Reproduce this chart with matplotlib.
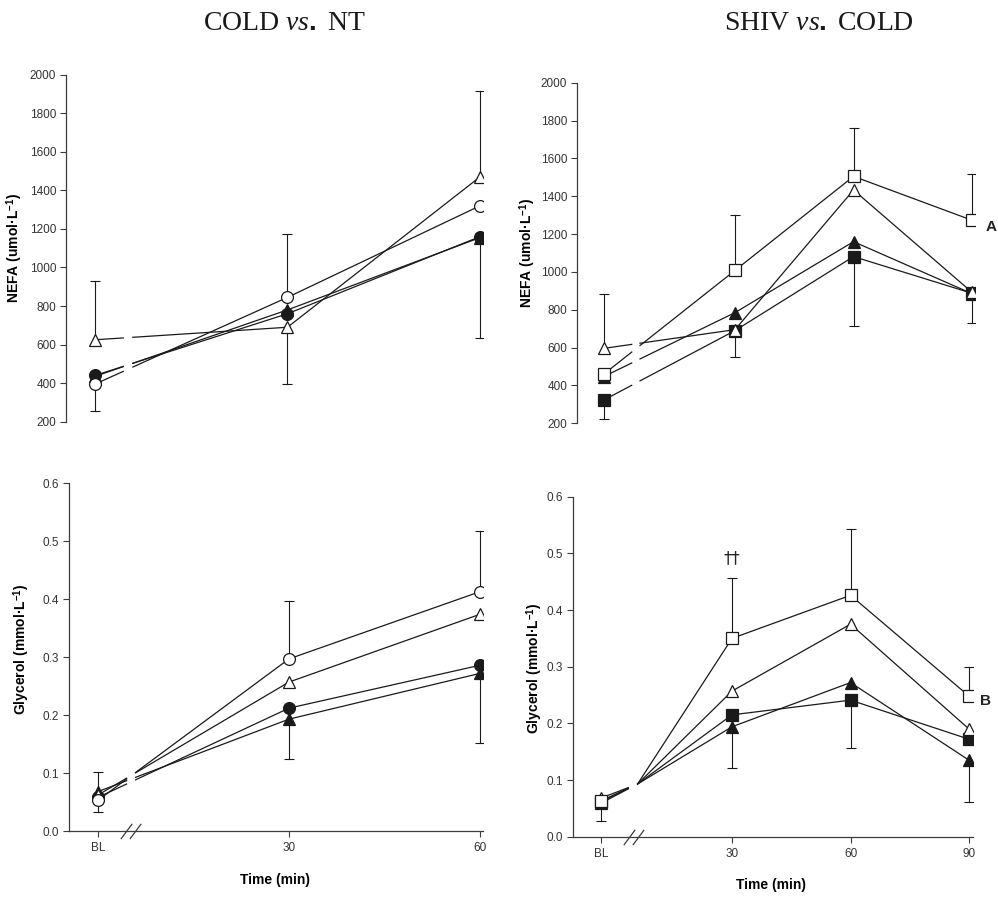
import matplotlib
matplotlib.use('Agg')
import matplotlib.pyplot as plt
import matplotlib.transforms as mtransforms
from matplotlib.path import Path

plt.rcParams['font.family'] = ['Liberation Sans', 'DejaVu Sans']
plt.rcParams['mathtext.fontset'] = 'custom'
plt.rcParams['mathtext.rm'] = 'Liberation Sans:bold'
plt.rcParams['mathtext.bf'] = 'Liberation Sans:bold'
plt.rcParams['mathtext.it'] = 'Liberation Serif:italic'

AXIS_COLOR = '#3c3c3c'
LINE_COLOR = '#1a1a1a'

# ---- values ----
times_cold = ['BL', '30', '60']
times_shiv = ['BL', '30', '60', '90']

# NEFA (umol/L), COLD vs. NT
nefa_cold_tri_open = [625, 690, 1470]
nefa_cold_tri_open_up = [305, 0, 447]
nefa_cold_tri_open_down = [0, 296, 0]
nefa_cold_tri_filled = [435, 780, 1155]
nefa_cold_circ_filled = [440, 760, 1160]
nefa_cold_circ_filled_down = [0, 0, 524]
nefa_cold_circ_open = [395, 845, 1320]
nefa_cold_circ_open_up = [0, 327, 0]
nefa_cold_circ_open_down = [140, 0, 0]

# NEFA (umol/L), SHIV vs. COLD
nefa_shiv_sq_filled = [323, 690, 1081, 887]
nefa_shiv_sq_filled_down = [102, 138, 365, 159]
nefa_shiv_tri_filled = [447, 785, 1160, 885]
nefa_shiv_sq_open = [460, 1008, 1505, 1273]
nefa_shiv_sq_open_up = [0, 293, 254, 244]
nefa_shiv_tri_open = [596, 695, 1433, 892]
nefa_shiv_tri_open_up = [287, 0, 0, 0]

# Glycerol (mmol/L), COLD vs. NT
gly_cold_tri_filled = [0.068, 0.193, 0.272]
gly_cold_tri_filled_up = [0.033, 0, 0]
gly_cold_tri_filled_down = [0, 0.068, 0.121]
gly_cold_circ_filled = [0.058, 0.212, 0.286]
gly_cold_tri_open = [0.062, 0.257, 0.374]
gly_cold_circ_open = [0.053, 0.297, 0.413]
gly_cold_circ_open_up = [0, 0.100, 0.105]
gly_cold_circ_open_down = [0.020, 0, 0]

# Glycerol (mmol/L), SHIV vs. COLD
gly_shiv_tri_filled = [0.059, 0.194, 0.272, 0.135]
gly_shiv_tri_filled_down = [0, 0.072, 0, 0.074]
gly_shiv_sq_filled = [0.062, 0.215, 0.241, 0.172]
gly_shiv_sq_filled_down = [0, 0, 0.085, 0]
gly_shiv_tri_open = [0.068, 0.257, 0.375, 0.190]
gly_shiv_sq_open = [0.063, 0.350, 0.426, 0.248]
gly_shiv_sq_open_up = [0, 0.106, 0.117, 0.052]
gly_shiv_sq_open_down = [0.035, 0, 0, 0]
gly_shiv_bridge = 0.093   # value where the lines resume after the axis break


def positions(times, bl_pos):
    return [bl_pos if t == 'BL' else float(t) for t in times]


def draw_series(ax, xs, ys, marker, filled, gap, bridge=None, up=None, down=None, ms=8.5):
    x0, y0 = xs[0], ys[0]
    g0, g1 = gap
    if bridge is None:
        yb = y0 + (ys[1] - y0) * (g1 - x0) / (xs[1] - x0)
    else:
        yb = bridge
    ya = y0 + (yb - y0) * (g0 - x0) / (g1 - x0)
    ax.plot([x0, g0], [y0, ya], color=LINE_COLOR, lw=0.9, zorder=2)
    ax.plot([g1] + list(xs[1:]), [yb] + list(ys[1:]), color=LINE_COLOR, lw=0.9, zorder=2)
    for i, (x, y) in enumerate(zip(xs, ys)):
        for err, sgn in ((up, 1), (down, -1)):
            if err and err[i]:
                yy = y + sgn * err[i]
                ax.plot([x, x], [y, yy], color=LINE_COLOR, lw=0.8, zorder=1)
                ax.plot([x], [yy], marker='_', ms=7.5, mew=0.8, color=LINE_COLOR, zorder=1)
    ax.plot(xs, ys, ls='none', marker=marker, ms=ms,
            mfc=LINE_COLOR if filled else 'white', mec=LINE_COLOR, mew=0.9, zorder=3)


def px_axes(fig, left, top, right, bottom):
    W, H = 998, 898
    return fig.add_axes([left / W, 1 - bottom / H, (right - left) / W, (bottom - top) / H])


def style_axes(ax, show_x):
    for s in ['top', 'right']:
        ax.spines[s].set_visible(False)
    ax.spines['left'].set_color(AXIS_COLOR)
    ax.spines['left'].set_linewidth(0.9)
    ax.tick_params(axis='y', direction='out', length=4, width=0.8, color=AXIS_COLOR,
                   labelsize=8.5, labelcolor='#333333', pad=3)
    if show_x:
        ax.spines['bottom'].set_color(AXIS_COLOR)
        ax.spines['bottom'].set_linewidth(0.9)
        ax.tick_params(axis='x', direction='out', length=4, width=0.8, color=AXIS_COLOR,
                       labelsize=8.5, labelcolor='#333333', pad=4)
    else:
        ax.spines['bottom'].set_visible(False)
        ax.set_xticks([])


slash = Path([(-0.37, -0.5), (0.37, 0.5)], [Path.MOVETO, Path.LINETO])


def axis_break(ax, xc, dx):
    trans = mtransforms.blended_transform_factory(ax.transData, ax.transAxes)
    ax.plot([xc - dx, xc + dx], [0, 0], ls='none', marker=slash, ms=11, mew=0.9,
            color=AXIS_COLOR, transform=trans, clip_on=False, zorder=5)


fig = plt.figure(figsize=(9.98, 8.98), dpi=100)

x_cold = positions(times_cold, 0.0)
x_shiv = positions(times_shiv, -3.2)

nefa_label = 'NEFA (umol·L$^{-1}$)'
gly_label = 'Glycerol (mmol·L$^{-1}$)'

# ---- top left: NEFA, COLD vs NT ----
ax1 = px_axes(fig, 66, 74.7, 483.2, 421.7)
gap = (4.4, 5.9)
draw_series(ax1, x_cold, nefa_cold_tri_open, '^', False, gap,
            up=nefa_cold_tri_open_up, down=nefa_cold_tri_open_down)
draw_series(ax1, x_cold, nefa_cold_tri_filled, '^', True, gap)
draw_series(ax1, x_cold, nefa_cold_circ_filled, 'o', True, gap, down=nefa_cold_circ_filled_down)
draw_series(ax1, x_cold, nefa_cold_circ_open, 'o', False, gap,
            up=nefa_cold_circ_open_up, down=nefa_cold_circ_open_down)
ax1.set_xlim(-4.52, 60.5)
ax1.set_ylim(200, 2000)
ax1.set_yticks(range(200, 2001, 200))
style_axes(ax1, False)
ax1.set_ylabel(nefa_label, fontsize=10, fontweight='bold')
ax1.yaxis.set_label_coords(-0.098, 0.5)

# ---- top right: NEFA, SHIV vs COLD ----
ax2 = px_axes(fig, 577, 82.7, 975.2, 423.3)
gap = (3.85, 5.95)
draw_series(ax2, x_shiv, nefa_shiv_sq_filled, 's', True, gap, down=nefa_shiv_sq_filled_down, ms=8)
draw_series(ax2, x_shiv, nefa_shiv_tri_filled, '^', True, gap)
draw_series(ax2, x_shiv, nefa_shiv_sq_open, 's', False, gap, up=nefa_shiv_sq_open_up, ms=8)
draw_series(ax2, x_shiv, nefa_shiv_tri_open, '^', False, gap, up=nefa_shiv_tri_open_up)
ax2.set_xlim(-10.0, 90.8)
ax2.set_ylim(200, 2000)
ax2.set_yticks(range(200, 2001, 200))
style_axes(ax2, False)
ax2.set_ylabel(nefa_label, fontsize=10, fontweight='bold')
ax2.yaxis.set_label_coords(-0.098, 0.5)
ax2.annotate('A', xy=(x_shiv[-1], nefa_shiv_sq_open[-1]), xytext=(9.5, -4.5),
             textcoords='offset points', ha='left', va='center',
             fontsize=11, fontweight='bold', color='#222222')

# ---- bottom left: Glycerol, COLD vs NT ----
ax3 = px_axes(fig, 69, 483.3, 483, 831)
gap = (4.5, 5.9)
draw_series(ax3, x_cold, gly_cold_tri_filled, '^', True, gap,
            up=gly_cold_tri_filled_up, down=gly_cold_tri_filled_down)
draw_series(ax3, x_cold, gly_cold_circ_filled, 'o', True, gap)
draw_series(ax3, x_cold, gly_cold_tri_open, '^', False, gap)
draw_series(ax3, x_cold, gly_cold_circ_open, 'o', False, gap,
            up=gly_cold_circ_open_up, down=gly_cold_circ_open_down)
ax3.set_xlim(-4.55, 60.47)
ax3.set_ylim(0, 0.6)
ax3.set_yticks([0, 0.1, 0.2, 0.3, 0.4, 0.5, 0.6])
ax3.set_yticklabels(['0.0', '0.1', '0.2', '0.3', '0.4', '0.5', '0.6'])
ax3.set_xticks(x_cold)
ax3.set_xticklabels(times_cold)
style_axes(ax3, True)
axis_break(ax3, 5.1, 0.7)
ax3.set_ylabel(gly_label, fontsize=10, fontweight='bold')
ax3.yaxis.set_label_coords(-0.089, 0.522)
ax3.set_xlabel('Time (min)', fontsize=10, fontweight='bold')
ax3.xaxis.set_label_coords(0.498, -0.121)

# ---- bottom right: Glycerol, SHIV vs COLD ----
ax4 = px_axes(fig, 573, 496.7, 973, 836.7)
gap = (3.75, 6.1)
draw_series(ax4, x_shiv, gly_shiv_tri_filled, '^', True, gap, bridge=gly_shiv_bridge,
            down=gly_shiv_tri_filled_down)
draw_series(ax4, x_shiv, gly_shiv_sq_filled, 's', True, gap, bridge=gly_shiv_bridge,
            down=gly_shiv_sq_filled_down, ms=8)
draw_series(ax4, x_shiv, gly_shiv_tri_open, '^', False, gap, bridge=gly_shiv_bridge)
draw_series(ax4, x_shiv, gly_shiv_sq_open, 's', False, gap, bridge=gly_shiv_bridge,
            up=gly_shiv_sq_open_up, down=gly_shiv_sq_open_down, ms=8)
ax4.set_xlim(-10.25, 91.0)
ax4.set_ylim(0, 0.6)
ax4.set_yticks([0, 0.1, 0.2, 0.3, 0.4, 0.5, 0.6])
ax4.set_yticklabels(['0.0', '0.1', '0.2', '0.3', '0.4', '0.5', '0.6'])
ax4.set_xticks(x_shiv)
ax4.set_xticklabels(times_shiv)
style_axes(ax4, True)
axis_break(ax4, 4.95, 1.14)
ax4.set_ylabel(gly_label, fontsize=10, fontweight='bold')
ax4.yaxis.set_label_coords(-0.07, 0.496)
ax4.set_xlabel('Time (min)', fontsize=10, fontweight='bold')
ax4.xaxis.set_label_coords(0.495, -0.121)
ax4.annotate('B', xy=(x_shiv[-1], gly_shiv_sq_open[-1]), xytext=(8, -3.5),
             textcoords='offset points', ha='left', va='center',
             fontsize=11, fontweight='bold', color='#222222')
ax4.annotate('††', xy=(x_shiv[1], gly_shiv_sq_open[1] + gly_shiv_sq_open_up[1]),
             xytext=(0, 8), textcoords='offset points', ha='center', va='bottom',
             fontsize=12, family=['DejaVu Sans'], color='#222222')

# panel titles
fig.text(284 / 998, 1 - 23 / 898, 'COLD $\\mathit{vs.}$ NT', ha='center', va='center',
         fontsize=20, family=['Liberation Serif'], color='#1a1a1a')
fig.text(819 / 998, 1 - 23 / 898, 'SHIV $\\mathit{vs.}$ COLD', ha='center', va='center',
         fontsize=20, family=['Liberation Serif'], color='#1a1a1a')

fig.savefig('out.png', dpi=100)
